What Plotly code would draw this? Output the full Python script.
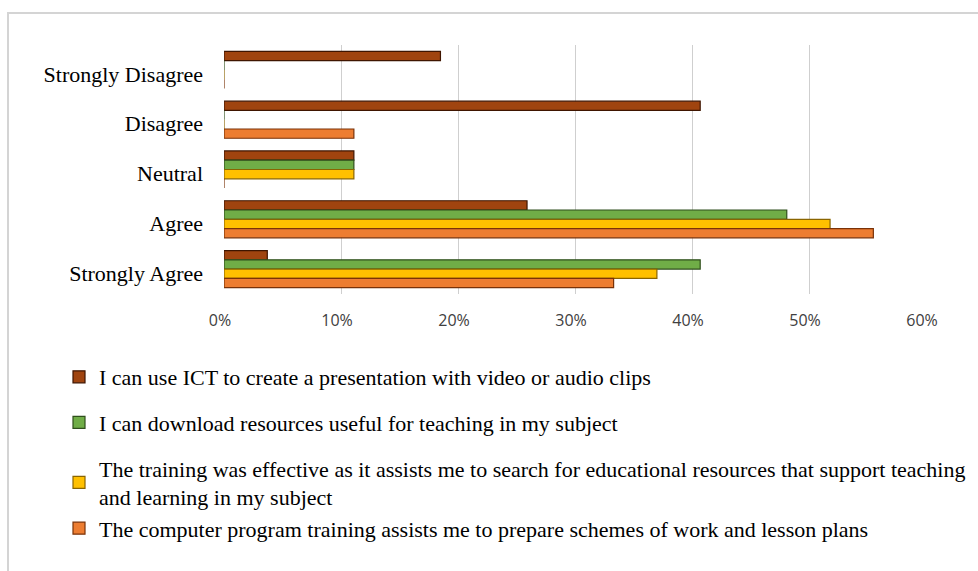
import plotly.graph_objects as go

categories = ["Strongly Disagree", "Disagree", "Neutral", "Agree", "Strongly Agree"]

series_names = [
    "I can use ICT to create a presentation with video or audio clips",
    "I can download resources useful for teaching in my subject",
    "The training was effective as it assists me to search for educational resources that support teaching<br>and learning in my subject",
    "The computer program training assists me to prepare schemes of work and lesson plans",
]

ict_presentation = [0.185, 0.407, 0.111, 0.259, 0.037]
download_resources = [0.0, 0.0, 0.111, 0.481, 0.407]
search_resources = [0.0, 0.0, 0.111, 0.518, 0.370]
schemes_of_work = [0.0, 0.111, 0.0, 0.555, 0.333]

tick_values = [0, 0.1, 0.2, 0.3, 0.4, 0.5, 0.6]
tick_labels = ["0%", "10%", "20%", "30%", "40%", "50%", "60%"]

fills = ["#A0440F", "#70AD47", "#FFC000", "#ED7D31"]
edges = ["#3F1500", "#2F4F1C", "#8A6500", "#7A3208"]
groups = ["g1", "g2", "g3", "g3"]

all_values = [ict_presentation, download_resources, search_resources, schemes_of_work]

fig = go.Figure()
for name, vals, fc, ec, g in zip(series_names, all_values, fills, edges, groups):
    fig.add_trace(go.Bar(
        y=categories, x=vals, name=name, orientation="h",
        marker=dict(color=fc, line=dict(color=ec, width=1.2)),
        legendgroup=g,
    ))

serif = "Liberation Serif, Times New Roman, serif"

fig.update_layout(
    width=978, height=571,
    margin=dict(l=224, r=52, t=45, b=277, autoexpand=False),
    paper_bgcolor="white", plot_bgcolor="white",
    barmode="group", bargap=0.255, bargroupgap=0,
    font=dict(family=serif, size=22, color="#000000"),
    showlegend=True,
    legend=dict(
        xref="container", yref="container",
        x=59 / 978, xanchor="left", y=1 - 356 / 571, yanchor="top",
        orientation="v", traceorder="grouped", tracegroupgap=14,
        font=dict(family=serif, size=22, color="#000000"),
        bgcolor="rgba(0,0,0,0)", itemwidth=30,
    ),
    xaxis=dict(
        range=[0, 0.6], tickvals=tick_values, ticktext=tick_labels,
        showgrid=True, gridcolor="#CFCFCF", gridwidth=1,
        zeroline=False, showline=False, ticks="", automargin=False,
        tickfont=dict(family="Open Sans, Liberation Sans, sans-serif", size=16, color="#404040"),
        ticklabelshift=-4, ticklabelstandoff=15,
    ),
    yaxis=dict(
        autorange="reversed", showgrid=False, zeroline=False, showline=False,
        ticks="", automargin=False,
        tickfont=dict(family=serif, size=22, color="#000000"),
        ticklabelstandoff=20, ticklabelshift=-4,
    ),
    shapes=[
        dict(type="rect", xref="paper", yref="paper",
             x0=-0.3077, x1=1.3, y0=-1.5, y1=1.1285,
             line=dict(color="#D4D4D4", width=2), fillcolor="rgba(0,0,0,0)", layer="below"),
    ],
)

fig.write_html(
    "out.html",
    config={"displayModeBar": False},
    post_script="document.body.style.margin='0';document.body.style.overflow='hidden';",
)
